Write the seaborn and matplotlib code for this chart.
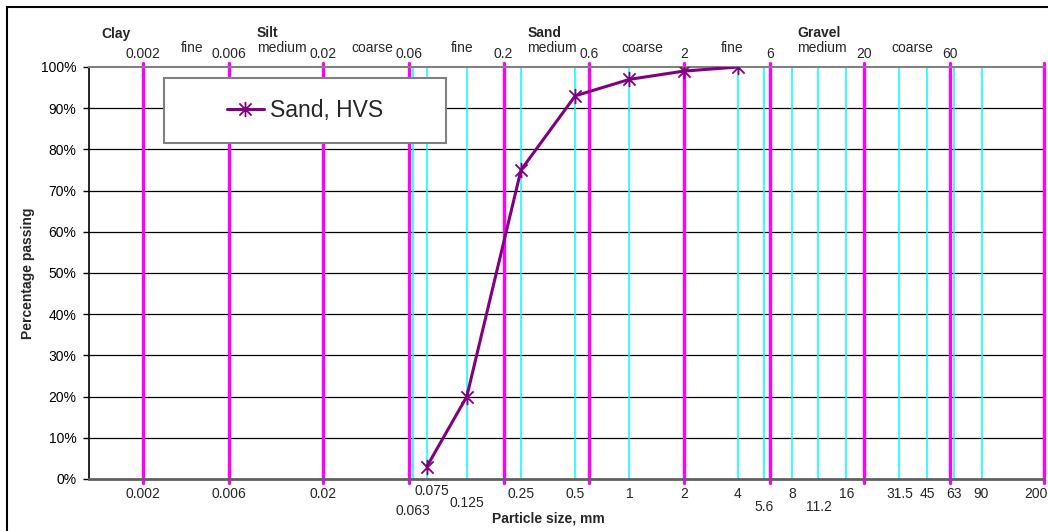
import numpy as np
import pandas as pd
import matplotlib
matplotlib.use("Agg")
import matplotlib.pyplot as plt
from matplotlib.patches import Rectangle
from matplotlib.path import Path
from matplotlib.ticker import NullLocator
import seaborn as sns

# ---------------- data ----------------
sizes_mm = [0.075, 0.125, 0.25, 0.5, 1, 2, 4]
passing_pct = [3, 20, 75, 93, 97, 99, 100]
series_name = "Sand, HVS"

boundary_sizes = [0.002, 0.006, 0.02, 0.06, 0.2, 0.6, 2, 6, 20, 60, 200]
boundary_labels = ["0.002", "0.006", "0.02", "0.06", "0.2", "0.6", "2", "6", "20", "60", ""]
sieve_sizes = [0.063, 0.075, 0.125, 0.25, 0.5, 1, 2, 4, 5.6, 8, 11.2, 16, 31.5, 45, 63, 90]

bottom_tick_values = [0.002, 0.006, 0.02, 0.063, 0.075, 0.125, 0.25, 0.5, 1, 2,
                      4, 5.6, 8, 11.2, 16, 31.5, 45, 63, 90, 200]
bottom_tick_text = ["0.002", "0.006", "0.02", "0.063", "0.075", "0.125", "0.25", "0.5", "1", "2",
                    "4", "5.6", "8", "11.2", "16", "31.5", "45", "63", "90", "200"]
# vertical placement of each bottom label (axes fraction), staggered
bottom_tick_y = [-0.036, -0.036, -0.036, -0.078, -0.029, -0.058, -0.036, -0.036, -0.036, -0.036,
                 -0.036, -0.068, -0.036, -0.068, -0.036, -0.036, -0.036, -0.036, -0.036, -0.036]
# small horizontal nudges (points)
bottom_tick_dx = [0, 0, 0, 0, 4, 0, 0, 0, 0, 0,
                  0, 0, 0, 0, 0, 0, 0, 0, 0, -6]

subclass_names = ["fine", "medium", "coarse"] * 3
group_names = ["Clay", "Silt", "Sand", "Gravel"]
y_ticks = list(range(0, 101, 10))

# ---------------- style ----------------
sns.set_style("white")
plt.rcParams["font.family"] = ["Liberation Sans", "DejaVu Sans"]
plt.rcParams["font.size"] = 10

MAGENTA = "#FF00FF"
CYAN = "#00FFFF"
PURPLE = "#800080"

fig = plt.figure(figsize=(10.48, 5.31), dpi=100)
fig.patch.set_facecolor("white")
ax = fig.add_axes([89 / 1048, 1 - 479 / 531, 955 / 1048, 412 / 531])
ax.set_xscale("log")
ax.set_xlim(0.001, 200)
ax.set_ylim(0, 100)

# sieve lines (cyan) and class boundaries (magenta)
for s in sieve_sizes:
    ax.axvline(s, color=CYAN, lw=1.1, zorder=1.5)
for b in boundary_sizes:
    ax.axvline(b, ymin=-0.01, ymax=1.01, color=MAGENTA, lw=2.4, zorder=2, clip_on=False)

# horizontal gridlines
for v in y_ticks[1:-1]:
    ax.axhline(v, color="black", lw=0.9, zorder=1)

# star (asterisk) marker
star = Path([(0, -1), (0, 1), (-0.8, -0.8), (0.8, 0.8), (-0.8, 0.8), (0.8, -0.8)],
            [Path.MOVETO, Path.LINETO, Path.MOVETO, Path.LINETO, Path.MOVETO, Path.LINETO])

df = pd.DataFrame({"size": sizes_mm, "passing": passing_pct})
sns.lineplot(data=df, x="size", y="passing", ax=ax, color=PURPLE, lw=2.2,
             marker=star, markersize=11, markeredgewidth=1.3, markeredgecolor=PURPLE,
             markerfacecolor="none", label=series_name, zorder=4, legend=False)

# axes styling
ax.xaxis.set_major_locator(NullLocator())
ax.xaxis.set_minor_locator(NullLocator())
ax.set_yticks(y_ticks)
ax.set_yticklabels([f"{v}%" for v in y_ticks])
ax.tick_params(axis="y", left=True, length=4, width=1, color="black", labelsize=10,
               pad=5, direction="out", labelcolor="black")
ax.spines["right"].set_visible(False)
ax.spines["top"].set_color("#808080")
ax.spines["top"].set_linewidth(1.5)
ax.spines["bottom"].set_color("#606060")
ax.spines["bottom"].set_linewidth(2)
ax.spines["left"].set_color("black")
ax.spines["left"].set_linewidth(1.2)

ax.set_xlabel("Particle size, mm", fontsize=10, fontweight="bold")
ax.xaxis.label.set_va("center")
ax.xaxis.set_label_coords(0.4806, -0.0947)
ax.set_ylabel("Percentage passing", fontsize=10, fontweight="bold")
ax.yaxis.label.set_va("center")
ax.yaxis.set_label_coords(-0.064, 0.5)

xt = ax.get_xaxis_transform()

# bottom tick labels
for val, txt, yy, dx in zip(bottom_tick_values, bottom_tick_text, bottom_tick_y, bottom_tick_dx):
    ax.annotate(txt, xy=(val, yy), xycoords=xt, xytext=(dx, 0), textcoords="offset points",
                ha="center", va="center", fontsize=10, annotation_clip=False)

# top boundary numbers
for val, txt in zip(boundary_sizes, boundary_labels):
    if txt:
        ax.text(val, 1.0316, txt, transform=xt, ha="center", va="center", fontsize=10)

# subclass labels (between boundaries)
medium_texts = []
for i, name in enumerate(subclass_names):
    xm = np.sqrt(boundary_sizes[i] * boundary_sizes[i + 1])
    t = ax.annotate(name, xy=(xm, 1.0485), xycoords=xt, xytext=(4, -0.5),
                    textcoords="offset points", ha="center", va="center", fontsize=10,
                    annotation_clip=False)
    if name == "medium":
        medium_texts.append(t)

# group labels
ax.text(np.sqrt(ax.get_xlim()[0] * boundary_sizes[0]), 1.0800, group_names[0],
        transform=xt, ha="center", va="center", fontsize=10, fontweight="bold")
for name, mt in zip(group_names[1:], medium_texts):
    ax.annotate(name, xy=(0, 1), xycoords=mt, xytext=(0, 0.3), textcoords="offset points",
                ha="left", va="bottom", fontsize=10, fontweight="bold")

# legend with its own white box
box = Rectangle((0.0785, 0.8155), 0.2953, 0.1578, transform=ax.transAxes,
                facecolor="white", edgecolor="#808080", lw=1.5, zorder=5)
ax.add_patch(box)
leg = ax.legend(loc="center", bbox_to_anchor=(0.2262, 0.8944), frameon=False,
                fontsize=16.5, handlelength=1.6, handletextpad=0.26, borderpad=0)
leg.set_zorder(6)

# outer chart frame
fig.patches.append(Rectangle((7 / 1048, -0.1), 1.2, (1 - 7 / 531) + 0.1,
                             transform=fig.transFigure, fill=False,
                             edgecolor="black", lw=1.5))

fig.savefig("out.png", dpi=100)
